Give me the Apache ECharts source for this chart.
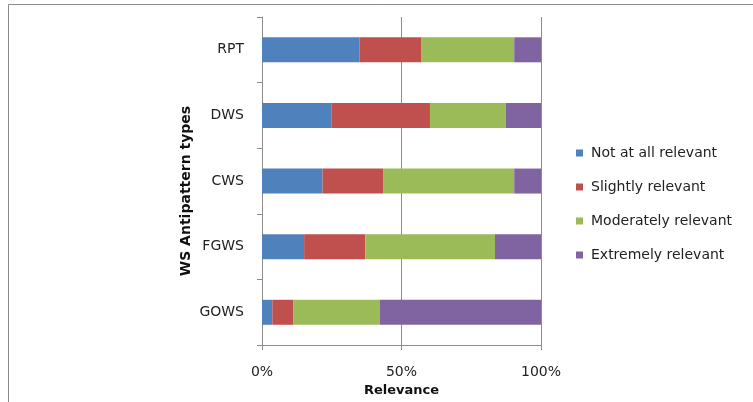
<!DOCTYPE html>
<html>
<head>
<meta charset="utf-8">
<script src="https://cdn.jsdelivr.net/npm/echarts@6/dist/echarts.min.js"></script>
<style>
  html, body { margin: 0; padding: 0; background: #fff; }
  #chart { width: 753px; height: 402px; }
</style>
</head>
<body>
<div id="chart"></div>
<script>
// Antipattern types, top to bottom
const categories = ['RPT', 'DWS', 'CWS', 'FGWS', 'GOWS'];

// Share of answers per relevance level (%)
const notAtAll   = [34.9, 25.0, 21.7, 15.1, 3.7];
const slightly   = [22.3, 35.2, 21.7, 21.9, 7.6];
const moderately = [33.2, 27.2, 47.0, 46.5, 31.0];
const extremely  = [9.6, 12.6, 9.6, 16.5, 57.7];

const seriesNames = ['Not at all relevant', 'Slightly relevant', 'Moderately relevant', 'Extremely relevant'];
const seriesColors = ['#4F81BD', '#C0504D', '#9BBB59', '#8064A2'];
const seriesData = [notAtAll, slightly, moderately, extremely];

const font = '"DejaVu Sans", "Noto Sans", sans-serif';
const axisGray = '#8C8C8C';
const textColor = '#222';

const chart = echarts.init(document.getElementById('chart'), null, { renderer: 'canvas' });

chart.setOption({
  animation: false,
  backgroundColor: '#fff',
  textStyle: { fontFamily: font },
  graphic: [{
    type: 'rect',
    shape: { x: 8.5, y: 4.5, width: 760, height: 420 },
    style: { fill: 'none', stroke: '#8a8a8a', lineWidth: 1 },
    silent: true
  }],
  grid: { left: 262, right: 212, top: 17, bottom: 53, containLabel: false },
  legend: {
    orient: 'vertical',
    left: 571,
    top: 141,
    icon: 'rect',
    itemWidth: 7,
    itemHeight: 7,
    itemGap: 20,
    textStyle: { fontFamily: font, fontSize: 14, color: textColor, padding: [0, 0, 0, 3] },
    data: seriesNames
  },
  xAxis: {
    type: 'value',
    min: 0,
    max: 100,
    interval: 50,
    name: 'Relevance',
    nameLocation: 'middle',
    nameGap: 36,
    nameTextStyle: { fontFamily: font, fontSize: 13, fontWeight: 'bold', color: '#111' },
    axisLine: { show: true, lineStyle: { color: axisGray, width: 1 } },
    axisTick: { show: true, length: 5, lineStyle: { color: axisGray } },
    axisLabel: { formatter: '{value}%', margin: 20, fontFamily: font, fontSize: 14, color: textColor },
    splitLine: { show: true, lineStyle: { color: axisGray, width: 1 } }
  },
  yAxis: {
    type: 'category',
    inverse: true,
    data: categories,
    name: 'WS Antipattern types',
    nameLocation: 'middle',
    nameGap: 69,
    nameTextStyle: { fontFamily: font, fontSize: 14, fontWeight: 'bold', color: '#111', padding: [0, 20, 0, 0] },
    axisLine: { show: true, lineStyle: { color: axisGray, width: 1 } },
    axisTick: { show: true, length: 5, lineStyle: { color: axisGray } },
    axisLabel: { margin: 18, fontFamily: font, fontSize: 14, color: textColor },
    splitLine: { show: false }
  },
  series: seriesNames.map((name, i) => ({
    name: name,
    type: 'bar',
    stack: 'total',
    barWidth: 25,
    itemStyle: { color: seriesColors[i] },
    data: seriesData[i]
  }))
});
</script>
</body>
</html>
